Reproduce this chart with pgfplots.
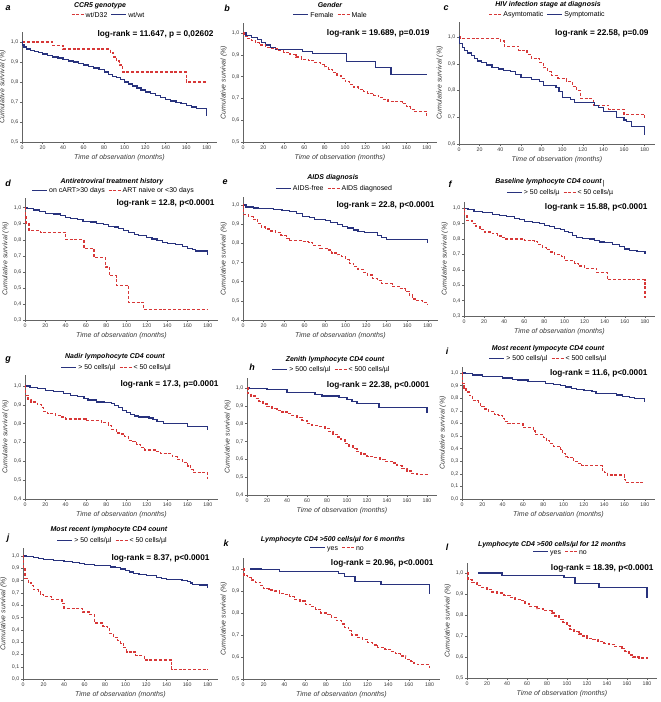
\documentclass[border=0pt]{standalone}
\usepackage{fontspec}
\setmainfont{Liberation Sans}
\usepackage{pgfplots}
\pgfplotsset{compat=1.18}
\definecolor{kmblue}{RGB}{40,50,125}
\definecolor{kmred}{RGB}{215,55,55}
\definecolor{axisgray}{RGB}{100,100,100}
\definecolor{ticktext}{RGB}{55,55,55}
\tikzset{
 sblue/.style={draw=kmblue, color=kmblue, line width=1.2bp},
 sred/.style={draw=kmred, color=kmred, line width=1.2bp, dash pattern=on 3bp off 1.8bp},
}
\pgfplotsset{
 km/.style={
  scale only axis,
  axis x line=bottom, axis y line=left,
  axis line style={-, draw=axisgray, line width=0.5bp},
  xmin=0, xmax=190, xtick={0,20,40,60,80,100,120,140,160,180},
  tick align=outside, major tick length=2bp,
  tick style={draw=axisgray, line width=0.4bp},
  ticklabel style={font=\fontsize{5.3}{6}\selectfont, text=ticktext, inner sep=1.5bp},
  /pgf/number format/assume math mode=true,
  yticklabel style={/pgf/number format/fixed, /pgf/number format/fixed zerofill, /pgf/number format/precision=1, /pgf/number format/use comma},
  xlabel={Time of observation (months)},
  ylabel={Cumulative survival (\%)},
  label style={font=\fontsize{7}{8}\selectfont\itshape, text=ticktext},
  every axis plot/.append style={const plot, no marks},
  anchor=south west,
 },
}
\newcommand{\ttl}[1]{{\fontsize{7}{8}\selectfont\bfseries\itshape #1}}
\newcommand{\lr}[1]{{\fontsize{8.3}{9}\selectfont\bfseries #1}}
\newcommand{\lett}[1]{{\fontsize{9}{10}\selectfont\bfseries\itshape #1}}
\newcommand{\kb}{\textcolor{kmblue}{\rule[2bp]{15bp}{1.2bp}}\hspace{2bp}}
\newcommand{\kr}{\textcolor{kmred}{\rule[2bp]{3bp}{1.2bp}\hspace{1.5bp}\rule[2bp]{3bp}{1.2bp}\hspace{1.5bp}\rule[2bp]{3bp}{1.2bp}}\hspace{2bp}}
\newcommand{\leg}[1]{{\fontsize{7}{8}\selectfont #1}}
\begin{document}
\begin{tikzpicture}
\useasboundingbox (0,0) rectangle (661bp,-702bp);
% ---------- a
\begin{axis}[km, at={(22bp,-142bp)}, width=195bp, height=110bp, ymin=0.5, ymax=1.05, ytick={0.5,0.6,0.7,0.8,0.9,1.0}]
\addplot[sred] coordinates {(0,1)(30,0.982)(40,0.965)(86,0.945)(89,0.925)(92,0.905)(95,0.885)(98,0.85)(160,0.8)(180,0.8)};
\addplot[sblue] coordinates {(0,1)(0.5,0.985)(2,0.975)(4,0.965)(8,0.958)(12,0.952)(16,0.946)(20,0.94)(25,0.932)(30,0.925)(35,0.92)(40,0.912)(45,0.905)(50,0.9)(55,0.893)(60,0.885)(65,0.876)(70,0.87)(75,0.862)(80,0.85)(84,0.838)(88,0.828)(92,0.822)(96,0.812)(100,0.8)(104,0.79)(108,0.78)(112,0.77)(116,0.76)(120,0.75)(125,0.742)(130,0.733)(135,0.722)(140,0.713)(145,0.705)(150,0.698)(155,0.692)(160,0.683)(165,0.675)(170,0.666)(180,0.632)};
\end{axis}
% ---------- b
\begin{axis}[km, at={(243bp,-142bp)}, width=194bp, height=119bp, ymin=0.5, ymax=1.046, ytick={0.5,0.6,0.7,0.8,0.9,1.0}]
\addplot[sblue] coordinates {(0,1)(3,0.99)(8,0.98)(14,0.97)(18,0.955)(22,0.945)(27,0.935)(32,0.925)(58,0.915)(68,0.905)(101,0.87)(130,0.843)(145,0.81)(180,0.81)};
\addplot[sred] coordinates {(0,1)(1,0.985)(4,0.975)(8,0.965)(12,0.955)(16,0.945)(22,0.935)(28,0.928)(34,0.92)(40,0.91)(46,0.9)(52,0.89)(57,0.88)(64,0.873)(70,0.865)(76,0.855)(80,0.845)(84,0.833)(88,0.82)(92,0.805)(96,0.792)(100,0.778)(104,0.765)(108,0.752)(113,0.742)(118,0.732)(122,0.722)(128,0.715)(133,0.705)(138,0.695)(142,0.686)(150,0.684)(156,0.675)(160,0.662)(164,0.65)(168,0.64)(180,0.61)};
\end{axis}
% ---------- c
\begin{axis}[km, at={(459bp,-144bp)}, width=196bp, height=122bp, ymin=0.6, ymax=1.056, ytick={0.6,0.7,0.8,0.9,1.0}]
\addplot[sred] coordinates {(0,1)(1,0.993)(40,0.985)(44,0.965)(58,0.95)(66,0.935)(70,0.92)(78,0.905)(82,0.885)(86,0.87)(90,0.855)(96,0.845)(104,0.835)(110,0.815)(114,0.8)(118,0.77)(130,0.745)(145,0.73)(160,0.71)(180,0.695)};
\addplot[sblue] coordinates {(0,1)(0.5,0.975)(3,0.96)(5,0.95)(8,0.94)(12,0.93)(15,0.92)(18,0.91)(22,0.905)(27,0.895)(32,0.885)(38,0.88)(43,0.875)(50,0.87)(55,0.86)(60,0.85)(70,0.84)(78,0.835)(82,0.82)(94,0.81)(97,0.795)(100,0.775)(108,0.765)(112,0.755)(131,0.745)(135,0.735)(140,0.72)(153,0.7)(160,0.69)(162,0.685)(167,0.665)(180,0.635)};
\end{axis}
% ---------- d
\begin{axis}[km, at={(25bp,-320bp)}, width=193bp, height=122bp, ymin=0.3, ymax=1.06, ytick={0.3,0.4,0.5,0.6,0.7,0.8,0.9,1.0}]
\addplot[sblue] coordinates {(0,1)(2,0.995)(8,0.985)(14,0.975)(20,0.965)(28,0.96)(35,0.95)(40,0.94)(45,0.93)(52,0.925)(57,0.915)(65,0.91)(70,0.9)(77,0.895)(82,0.885)(88,0.88)(92,0.87)(97,0.86)(102,0.845)(108,0.835)(112,0.825)(120,0.815)(125,0.805)(130,0.795)(135,0.785)(140,0.775)(148,0.77)(155,0.76)(160,0.745)(165,0.74)(168,0.73)(180,0.705)};
\addplot[sred] coordinates {(0,1)(0.5,0.95)(1,0.9)(4,0.86)(15,0.845)(40,0.8)(58,0.745)(68,0.69)(79,0.63)(83,0.575)(90,0.515)(102,0.41)(117,0.367)(180,0.367)};
\end{axis}
% ---------- e
\begin{axis}[km, at={(243bp,-320bp)}, width=195bp, height=123bp, ymin=0.4, ymax=1.042, ytick={0.4,0.5,0.6,0.7,0.8,0.9,1.0}]
\addplot[sblue] coordinates {(0,1)(3,0.99)(10,0.985)(15,0.98)(30,0.975)(38,0.97)(45,0.965)(52,0.955)(58,0.94)(65,0.935)(70,0.925)(80,0.92)(85,0.91)(92,0.9)(97,0.89)(102,0.88)(108,0.87)(112,0.86)(118,0.855)(131,0.84)(135,0.83)(140,0.82)(180,0.8)};
\addplot[sred] coordinates {(0,1)(0.5,0.95)(5,0.94)(10,0.925)(14,0.905)(18,0.885)(22,0.875)(27,0.865)(32,0.855)(37,0.84)(42,0.825)(45,0.815)(58,0.81)(64,0.805)(68,0.79)(75,0.775)(82,0.765)(86,0.75)(92,0.74)(96,0.73)(100,0.715)(104,0.695)(108,0.68)(112,0.665)(117,0.65)(121,0.635)(126,0.615)(131,0.605)(135,0.59)(146,0.575)(152,0.565)(158,0.55)(162,0.53)(165,0.51)(168,0.5)(175,0.49)(180,0.48)};
\end{axis}
% ---------- f
\begin{axis}[km, at={(464bp,-316bp)}, width=191bp, height=114bp, ymin=0.3, ymax=1.04, ytick={0.3,0.4,0.5,0.6,0.7,0.8,0.9,1.0}]
\addplot[sblue] coordinates {(0,1)(4,0.99)(10,0.98)(18,0.97)(28,0.96)(35,0.955)(42,0.945)(50,0.935)(55,0.925)(60,0.915)(68,0.905)(75,0.9)(80,0.89)(85,0.88)(90,0.87)(96,0.86)(100,0.85)(104,0.84)(108,0.825)(112,0.81)(118,0.805)(125,0.8)(130,0.79)(135,0.78)(140,0.775)(148,0.765)(155,0.75)(160,0.735)(165,0.725)(172,0.72)(180,0.705)};
\addplot[sred] coordinates {(0,1)(0.5,0.95)(3,0.92)(8,0.9)(12,0.88)(16,0.86)(20,0.845)(28,0.835)(33,0.82)(37,0.81)(40,0.8)(60,0.79)(70,0.785)(73,0.765)(78,0.745)(82,0.73)(86,0.715)(90,0.7)(97,0.685)(100,0.66)(110,0.64)(114,0.625)(120,0.61)(132,0.58)(143,0.535)(180,0.42)};
\end{axis}
% ---------- g
\begin{axis}[km, at={(25bp,-499bp)}, width=193bp, height=124bp, ymin=0.4, ymax=1.058, ytick={0.4,0.5,0.6,0.7,0.8,0.9,1.0}]
\addplot[sblue] coordinates {(0,1)(5,0.99)(12,0.985)(20,0.975)(28,0.97)(38,0.96)(45,0.95)(52,0.945)(58,0.935)(62,0.925)(70,0.915)(78,0.91)(85,0.905)(88,0.895)(92,0.885)(96,0.87)(100,0.86)(104,0.85)(108,0.84)(112,0.835)(122,0.83)(126,0.82)(130,0.81)(136,0.8)(160,0.785)(180,0.765)};
\addplot[sred] coordinates {(0,1)(0.5,0.95)(3,0.93)(6,0.915)(12,0.9)(16,0.885)(18,0.865)(22,0.855)(30,0.845)(35,0.835)(40,0.825)(60,0.815)(75,0.805)(82,0.79)(85,0.77)(90,0.75)(95,0.745)(98,0.73)(102,0.71)(106,0.705)(110,0.69)(114,0.675)(118,0.66)(128,0.65)(133,0.64)(145,0.625)(150,0.61)(155,0.595)(160,0.575)(163,0.555)(166,0.54)(180,0.505)};
\end{axis}
% ---------- h
\begin{axis}[km, at={(247bp,-495bp)}, width=190bp, height=117bp, ymin=0.4, ymax=1.056, ytick={0.4,0.5,0.6,0.7,0.8,0.9,1.0}]
\addplot[sblue] coordinates {(0,1)(2,0.996)(20,0.99)(40,0.975)(68,0.965)(75,0.955)(92,0.945)(100,0.935)(105,0.925)(110,0.915)(132,0.89)(180,0.86)};
\addplot[sred] coordinates {(0,1)(1,0.97)(4,0.955)(8,0.94)(12,0.925)(16,0.91)(20,0.895)(25,0.885)(30,0.875)(35,0.865)(40,0.855)(45,0.845)(50,0.835)(55,0.82)(60,0.8)(65,0.79)(72,0.785)(78,0.775)(82,0.755)(86,0.74)(90,0.725)(94,0.71)(98,0.69)(102,0.675)(106,0.66)(110,0.645)(114,0.63)(120,0.615)(128,0.61)(133,0.6)(138,0.59)(145,0.58)(150,0.565)(155,0.55)(160,0.535)(165,0.52)(170,0.515)(180,0.505)};
\end{axis}
% ---------- i
\begin{axis}[km, at={(462bp,-499bp)}, width=193bp, height=132bp, ymin=0, ymax=1.048, ytick={0,0.1,0.2,0.3,0.4,0.5,0.6,0.7,0.8,0.9,1.0}]
\addplot[sblue] coordinates {(0,1)(3,0.995)(10,0.985)(20,0.975)(30,0.97)(40,0.96)(50,0.95)(55,0.945)(65,0.935)(75,0.93)(82,0.92)(90,0.91)(97,0.9)(102,0.89)(108,0.88)(113,0.87)(120,0.86)(128,0.855)(132,0.84)(135,0.835)(152,0.825)(158,0.815)(165,0.805)(170,0.8)(180,0.77)};
\addplot[sred] coordinates {(0,1)(0.5,0.92)(2,0.88)(4,0.85)(7,0.82)(10,0.78)(16,0.77)(18,0.735)(22,0.715)(26,0.695)(32,0.67)(36,0.665)(40,0.64)(42,0.615)(45,0.6)(60,0.57)(70,0.54)(72,0.515)(80,0.49)(83,0.465)(86,0.44)(90,0.42)(97,0.39)(99,0.36)(102,0.335)(104,0.33)(110,0.3)(114,0.285)(118,0.265)(138,0.23)(140,0.21)(143,0.19)(160,0.155)(161,0.13)(180,0.13)};
\end{axis}
% ---------- j
\begin{axis}[km, at={(23bp,-679bp)}, width=195bp, height=131bp, ymin=0, ymax=1.065, ytick={0,0.1,0.2,0.3,0.4,0.5,0.6,0.7,0.8,0.9,1.0}]
\addplot[sblue] coordinates {(0,1)(3,0.995)(10,0.99)(15,0.98)(20,0.97)(30,0.965)(40,0.955)(48,0.95)(55,0.94)(60,0.93)(70,0.925)(80,0.92)(85,0.91)(90,0.905)(95,0.895)(100,0.885)(104,0.87)(108,0.86)(113,0.85)(120,0.84)(130,0.825)(135,0.815)(140,0.81)(155,0.8)(160,0.79)(163,0.78)(165,0.77)(172,0.765)(180,0.74)};
\addplot[sred] coordinates {(0,1)(0.5,0.9)(2,0.82)(5,0.78)(8,0.76)(10,0.725)(15,0.71)(17,0.69)(20,0.67)(28,0.645)(38,0.615)(40,0.575)(58,0.545)(65,0.525)(70,0.455)(78,0.43)(82,0.41)(84,0.37)(88,0.34)(92,0.31)(95,0.29)(98,0.255)(101,0.22)(110,0.19)(118,0.155)(145,0.08)(180,0.08)};
\end{axis}
% ---------- k
\begin{axis}[km, at={(243bp,-679bp)}, width=197bp, height=121bp, ymin=0.5, ymax=1.05, ytick={0.5,0.6,0.7,0.8,0.9,1.0}]
\addplot[sblue] coordinates {(7,1)(18,0.997)(35,0.99)(92,0.98)(98,0.967)(108,0.945)(133,0.93)(180,0.885)};
\addplot[sred] coordinates {(0,1)(1,0.97)(4,0.96)(8,0.95)(12,0.94)(17,0.925)(20,0.91)(25,0.905)(30,0.9)(35,0.89)(40,0.885)(45,0.875)(50,0.86)(55,0.855)(60,0.84)(65,0.83)(70,0.815)(75,0.8)(82,0.795)(85,0.78)(90,0.765)(95,0.75)(98,0.735)(102,0.72)(105,0.7)(110,0.69)(115,0.68)(120,0.665)(125,0.655)(130,0.645)(137,0.635)(142,0.625)(147,0.615)(152,0.605)(157,0.59)(162,0.58)(165,0.57)(168,0.565)(180,0.55)};
\end{axis}
% ---------- l
\begin{axis}[km, at={(467bp,-678bp)}, width=190bp, height=115bp, ymin=0.5, ymax=1.048, ytick={0.5,0.6,0.7,0.8,0.9,1.0}]
\addplot[sblue] coordinates {(11,1)(35,0.99)(97,0.98)(108,0.95)(132,0.93)(180,0.88)};
\addplot[sred] coordinates {(0,1)(1,0.97)(5,0.955)(10,0.94)(15,0.93)(20,0.92)(25,0.91)(30,0.905)(37,0.895)(43,0.885)(48,0.875)(53,0.87)(58,0.855)(62,0.84)(70,0.83)(76,0.82)(85,0.81)(88,0.795)(92,0.78)(96,0.765)(100,0.75)(103,0.73)(107,0.72)(112,0.71)(116,0.7)(120,0.69)(126,0.685)(131,0.675)(137,0.665)(142,0.66)(148,0.65)(155,0.64)(158,0.625)(162,0.61)(166,0.6)(172,0.595)(180,0.59)};
\end{axis}
% ---------- legends
\node[inner sep=0pt] at (108bp,-15bp) {\leg{\kr wt/D32\hspace{4bp}\kb wt/wt}};
\node[inner sep=0pt] at (330bp,-15bp) {\leg{\kb Female\hspace{4bp}\kr Male}};
\node[inner sep=0pt] at (547bp,-15bp) {\leg{\kr Asymtomatic\hspace{4bp}\kb Symptomatic}};
\node[inner sep=0pt] at (113bp,-191bp) {\leg{\kb on cART>30 days\hspace{4bp}\kr ART naive or <30 days}};
\node[inner sep=0pt] at (334bp,-189bp) {\leg{\kb AIDS-free\hspace{4bp}\kr AIDS diagnosed}};
\node[inner sep=0pt] at (560bp,-193bp) {\leg{\kb > 50 cells/µ\hspace{4bp}\kr < 50 cells/µ}};
\node[inner sep=0pt] at (116bp,-368bp) {\leg{\kb > 50 cells/µl\hspace{4bp}\kr < 50 cells/µl}};
\node[inner sep=0pt] at (331bp,-370bp) {\leg{\kb > 500 cells/µl\hspace{4bp}\kr < 500 cells/µl}};
\node[inner sep=0pt] at (548bp,-359bp) {\leg{\kb > 500 cells/µl\hspace{4bp}\kr < 500 cells/µl}};
\node[inner sep=0pt] at (112bp,-541bp) {\leg{\kb > 50 cells/µl\hspace{4bp}\kr < 50 cells/µl}};
\node[inner sep=0pt] at (337bp,-549bp) {\leg{\kb yes\hspace{4bp}\kr no}};
\node[inner sep=0pt] at (560bp,-553bp) {\leg{\kb yes\hspace{4bp}\kr no}};
% ---------- letters
\node at (8bp,-8bp) {\lett{a}};
\node at (227bp,-8bp) {\lett{b}};
\node at (446bp,-8bp) {\lett{c}};
\node at (8bp,-183bp) {\lett{d}};
\node at (225bp,-182bp) {\lett{e}};
\node at (450bp,-184bp) {\lett{f}};
\node at (8bp,-360bp) {\lett{g}};
\node at (252bp,-367bp) {\lett{h}};
\node at (447bp,-351bp) {\lett{i}};
\node at (8bp,-538bp) {\lett{j}};
\node at (226bp,-543bp) {\lett{k}};
\node at (447bp,-547bp) {\lett{l}};
% ---------- titles
\node at (100bp,-6bp) {\ttl{CCR5 genotype}};
\node at (330bp,-5bp) {\ttl{Gender}};
\node at (548bp,-5bp) {\ttl{HIV infection stage at diagnosis}};
\node at (112bp,-182bp) {\ttl{Antiretroviral treatment history}};
\node at (333bp,-178bp) {\ttl{AIDS diagnosis}};
\node at (550bp,-183bp) {\ttl{Baseline lymphocyte CD4 count\,\raisebox{-2bp}{\mdseries\upshape|}}};
\node at (115bp,-357bp) {\ttl{Nadir lympohocyte CD4 count}};
\node at (335bp,-360bp) {\ttl{Zenith lymphocyte CD4 count}};
\node at (548bp,-349bp) {\ttl{Most recent lympocyte CD4 count}};
\node at (109bp,-530bp) {\ttl{Most recent lymphocyte CD4 count}};
\node at (333bp,-540bp) {\ttl{Lymphocyte CD4 >500 cells/µl for 6 months}};
\node at (552bp,-545bp) {\ttl{Lymphocyte CD4 >500 cells/µl for 12 months}};
% ---------- log-rank
\node[anchor=east] at (217bp,-34bp) {\lr{log-rank = 11.647, p = 0,02602}};
\node[anchor=east] at (433bp,-33bp) {\lr{log-rank = 19.689, p=0.019}};
\node[anchor=east] at (652bp,-33bp) {\lr{log-rank = 22.58, p=0.09}};
\node[anchor=east] at (218bp,-203bp) {\lr{log-rank = 12.8, p<0.0001}};
\node[anchor=east] at (438bp,-205bp) {\lr{log-rank = 22.8, p<0.0001}};
\node[anchor=east] at (651bp,-207bp) {\lr{log-rank = 15.88, p<0.0001}};
\node[anchor=east] at (222bp,-384bp) {\lr{log-rank = 17.3, p=0.0001}};
\node[anchor=east] at (433bp,-385bp) {\lr{log-rank = 22.38, p<0.0001}};
\node[anchor=east] at (651bp,-373bp) {\lr{log-rank = 11.6, p<0.0001}};
\node[anchor=east] at (213bp,-558bp) {\lr{log-rank = 8.37, p<0.0001}};
\node[anchor=east] at (437bp,-563bp) {\lr{log-rank = 20.96, p<0.0001}};
\node[anchor=east] at (657bp,-568bp) {\lr{log-rank = 18.39, p<0.0001}};
\end{tikzpicture}
\end{document}
